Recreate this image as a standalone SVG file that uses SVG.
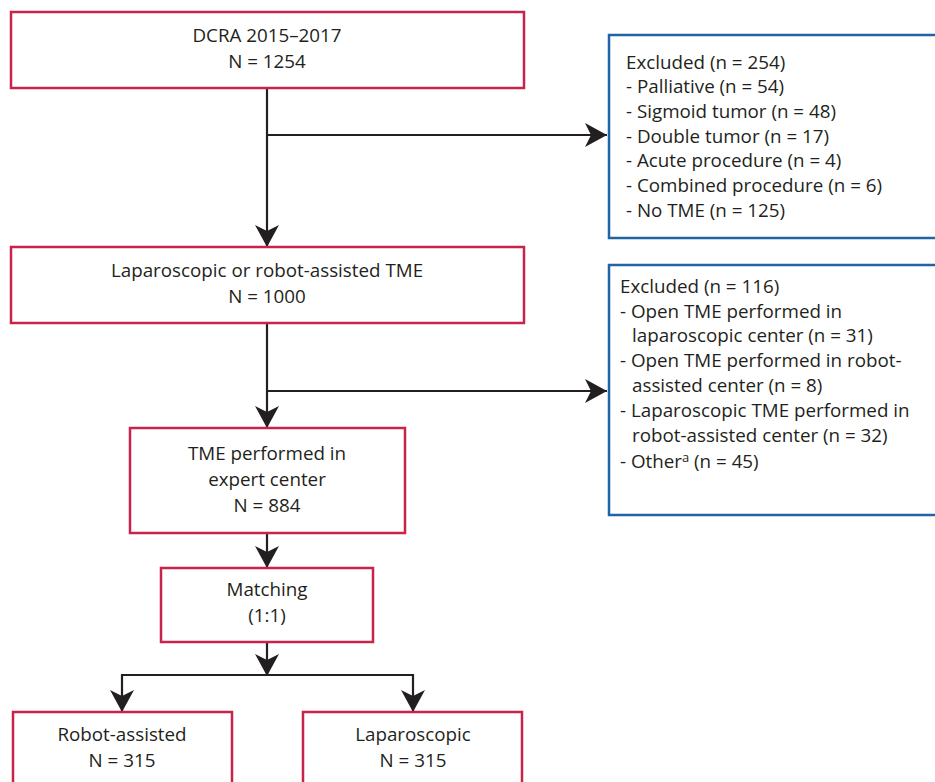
<svg xmlns="http://www.w3.org/2000/svg" width="935" height="782" viewBox="0 0 935 782">
<style>
text{font-family:"Open Sans","Liberation Sans",sans-serif;font-size:18.8px;fill:#231f20}
.c{text-anchor:middle}
.red{fill:#fff;stroke:#c8234a;stroke-width:2.5}
.blue{fill:#fff;stroke:#1f64a4;stroke-width:2.5}
.ln{fill:none;stroke:#231f20;stroke-width:2.2}
</style>
<defs>
<marker id="ah" viewBox="0 0 22 24" refX="22" refY="12" markerWidth="22" markerHeight="24" markerUnits="userSpaceOnUse" orient="auto">
<path d="M0,0 L22,12 L0,24 L6,12 z" fill="#231f20"/>
</marker>
</defs>
<g id="connectors">
<path class="ln" d="M267,88 V247" marker-end="url(#ah)"/>
<path class="ln" d="M267,135 H607" marker-end="url(#ah)"/>
<path class="ln" d="M267,323 V428" marker-end="url(#ah)"/>
<path class="ln" d="M267,391 H607" marker-end="url(#ah)"/>
<path class="ln" d="M267,533 V568" marker-end="url(#ah)"/>
<path class="ln" d="M267,642 V675"/>
<path class="ln" d="M267,660 V676" marker-end="url(#ah)"/>
<path class="ln" d="M122,675 H413"/>
<path class="ln" d="M122,674 V712" marker-end="url(#ah)"/>
<path class="ln" d="M413,674 V712" marker-end="url(#ah)"/>
</g>
<g id="dcra">
<rect class="red" x="11" y="12" width="513" height="76"/>
<text class="c" x="267" y="42">DCRA 2015–2017</text>
<text class="c" x="267" y="68">N = 1254</text>
</g>
<g id="excluded1">
<rect class="blue" x="609" y="35" width="340" height="203"/>
<text x="626" y="69">Excluded (n = 254)</text>
<text x="626" y="93">- Palliative (n = 54)</text>
<text x="626" y="118">- Sigmoid tumor (n = 48)</text>
<text x="626" y="143">- Double tumor (n = 17)</text>
<text x="626" y="167">- Acute procedure (n = 4)</text>
<text x="626" y="192">- Combined procedure (n = 6)</text>
<text x="626" y="217">- No TME (n = 125)</text>
</g>
<g id="lapro">
<rect class="red" x="11" y="247" width="513" height="76"/>
<text class="c" x="267" y="277">Laparoscopic or robot-assisted TME</text>
<text class="c" x="267" y="303">N = 1000</text>
</g>
<g id="excluded2">
<rect class="blue" x="609" y="265" width="340" height="250"/>
<text x="620" y="293">Excluded (n = 116)</text>
<text x="620" y="318">- Open TME performed in</text>
<text x="632" y="342">laparoscopic center (n = 31)</text>
<text x="620" y="367">- Open TME performed in robot-</text>
<text x="632" y="392">assisted center (n = 8)</text>
<text x="620" y="417">- Laparoscopic TME performed in</text>
<text x="632" y="442">robot-assisted center (n = 32)</text>
<text x="620" y="468">- Other<tspan font-size="13" dy="-6">a</tspan><tspan dy="6"> (n = 45)</tspan></text>
</g>
<g id="expert">
<rect class="red" x="130" y="428" width="275" height="105"/>
<text class="c" x="267" y="460">TME performed in</text>
<text class="c" x="267" y="486">expert center</text>
<text class="c" x="267" y="512">N = 884</text>
</g>
<g id="matching">
<rect class="red" x="161" y="568" width="212" height="74"/>
<text class="c" x="267" y="596">Matching</text>
<text class="c" x="267" y="622">(1:1)</text>
</g>
<g id="robot">
<rect class="red" x="13" y="712" width="219" height="80"/>
<text class="c" x="122" y="741">Robot-assisted</text>
<text class="c" x="122" y="767">N = 315</text>
</g>
<g id="laparoscopic">
<rect class="red" x="303" y="712" width="219" height="80"/>
<text class="c" x="413" y="741">Laparoscopic</text>
<text class="c" x="413" y="767">N = 315</text>
</g>
</svg>
